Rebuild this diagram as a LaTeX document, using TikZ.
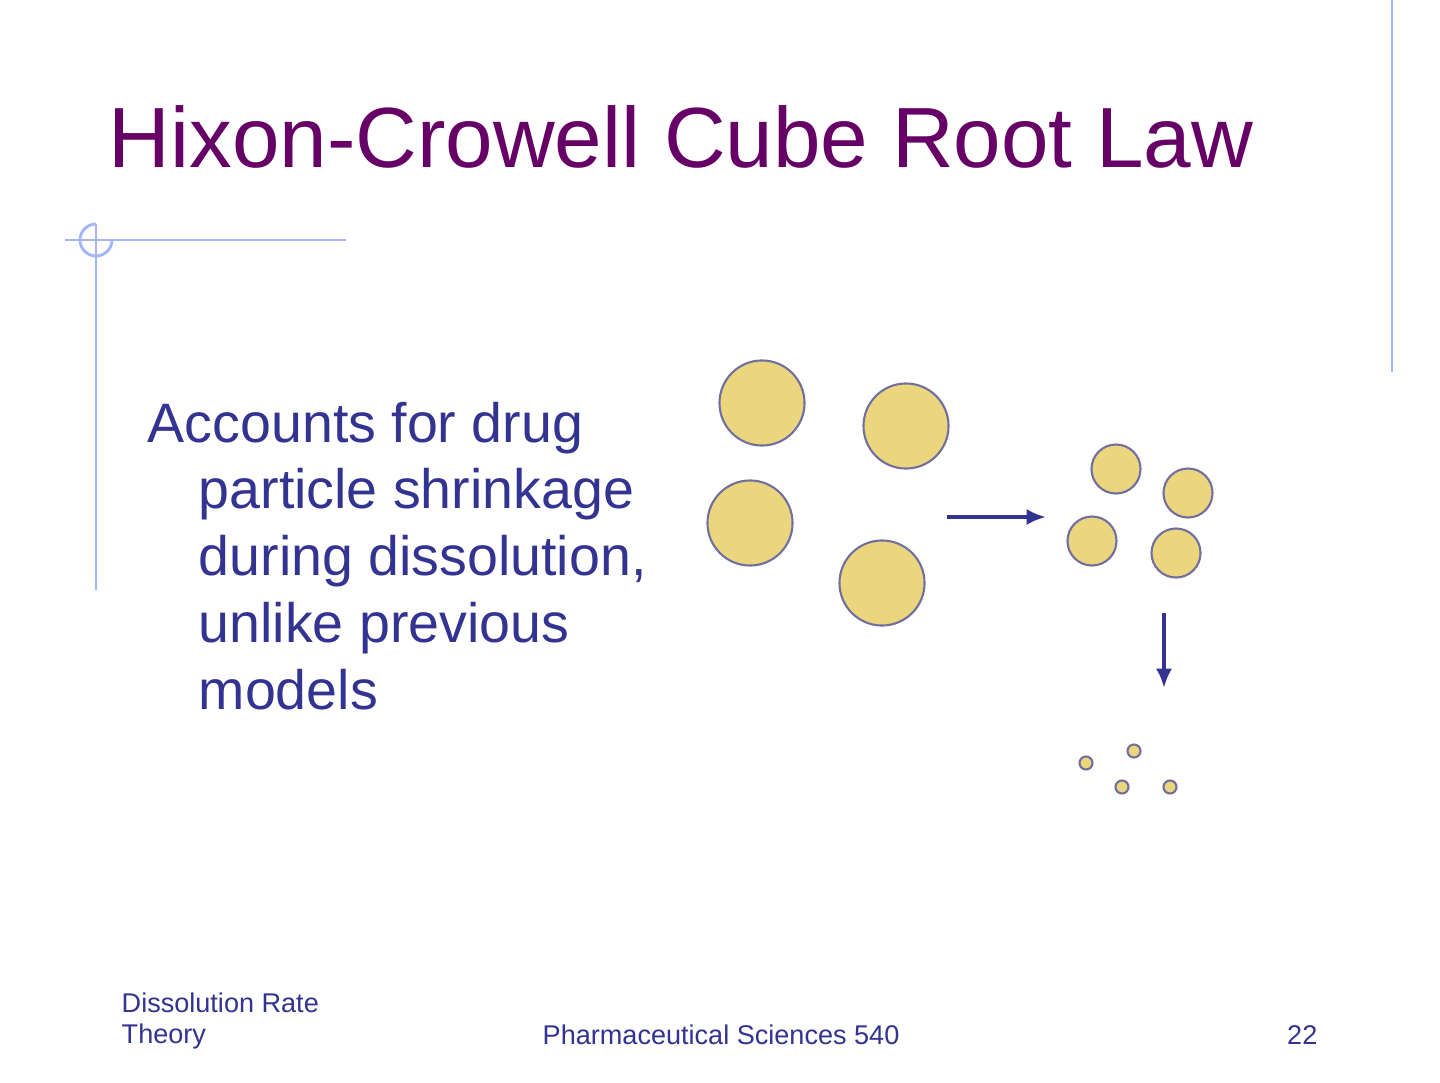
\documentclass[tikz,border=0pt]{standalone}
\usepackage{fontspec}
\setmainfont{Liberation Sans}
\usepackage{xcolor}
\usepackage{tikz}
\usetikzlibrary{arrows.meta, positioning}

\definecolor{titlepurple}{RGB}{102,0,102}
\definecolor{textblue}{RGB}{51,51,145}
\definecolor{rulesblue}{RGB}{165,180,255}
\definecolor{grainfill}{RGB}{236,214,125}
\definecolor{grainedge}{RGB}{112,112,160}

\begin{document}
\begin{tikzpicture}[x=0.01cm, y=-0.01cm,
    rule/.style={draw=rulesblue, line width=0.8pt},
    grain/.style={circle, draw=grainedge, fill=grainfill, line width=0.6pt, inner sep=0pt},
    bigGrain/.style={grain, minimum size=0.85cm},
    midGrain/.style={grain, minimum size=0.49cm},
    tinyGrain/.style={grain, minimum size=0.13cm},
    footer/.style={anchor=base west, inner sep=0pt, text=textblue, font=\fontsize{7.7}{8.8}\selectfont},
    flow/.style={draw=textblue, line width=1.3pt, -{Latex[length=5.5pt,width=4.6pt]}}]
                    % Page
                    \useasboundingbox[fill=white] (0,0) rectangle (1440,1082);
                    % Decoration lines
                    \draw[rule] (65,240) -- (346,240);
                    \draw[rule] (96,224) -- (96,590);
                    \draw[rule] (96,224) arc[start angle=270, end angle=0, radius=16];
                    \draw[rule] (1392,0) -- (1392,372);
                    % Title
                    \node[anchor=base west, inner sep=0pt, text=titlepurple, font=\fontsize{24.3}{29}\selectfont] (title) at (108,168) {Hixon-Crowell Cube Root Law};
                    % Bullet text
                    \node[anchor=base west, inner sep=0pt, text=textblue, font=\fontsize{15.8}{19}\selectfont] (bullet) at (147,442)
                        {\parbox[t]{7cm}{\raggedright\hangindent=0.51cm\hangafter=1 Accounts for drug\newline particle shrinkage\newline during dissolution,\newline unlike previous\newline models}};
                    % Big particles
                    \node[bigGrain] (big1) at (762,403) {};
                    \node[bigGrain] (big2) at (906,426) {};
                    \node[bigGrain] (big3) at (750,523) {};
                    \node[bigGrain] (big4) at (882,583) {};
                    % Medium particles
                    \node[midGrain] (mid1) at (1116,469) {};
                    \node[midGrain] (mid2) at (1188,493) {};
                    \node[midGrain] (mid3) at (1092,541) {};
                    \node[midGrain] (mid4) at (1176,553) {};
                    % Tiny particles
                    \node[tinyGrain] (tiny1) at (1086,763) {};
                    \node[tinyGrain] (tiny2) at (1134,751) {};
                    \node[tinyGrain] (tiny3) at (1122,787) {};
                    \node[tinyGrain] (tiny4) at (1170,787) {};
                    % Arrows
                    \coordinate (rightFrom) at (947,517);
                    \coordinate (rightTo) at (1046,517);
                    \coordinate (downFrom) at (1164,613);
                    \coordinate (downTo) at (1164,688);
                    \draw[flow] (rightFrom) -- (rightTo);
                    \draw[flow] (downFrom) -- (downTo);
                    % Footer
                    \node[footer] (topic) at (121,1012) {Dissolution Rate};
                    \node[footer] (topic2) at (121,1043) {Theory};
                    \node[footer] (course) at (542,1044) {Pharmaceutical Sciences 540};
                    \node[footer, anchor=base east] (page) at (1318,1044) {22};
                \end{tikzpicture}
\end{document}
